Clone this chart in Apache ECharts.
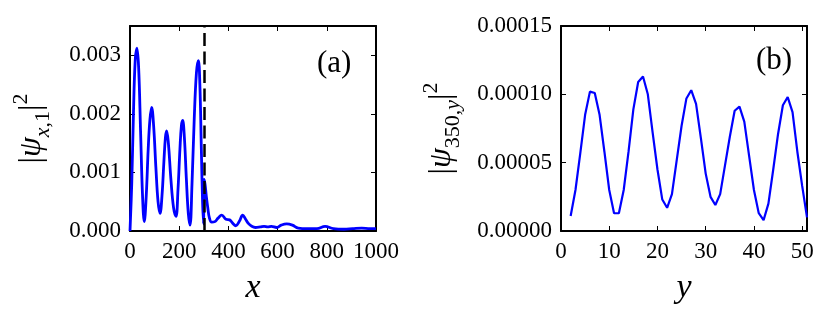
<!DOCTYPE html>
<html>
<head>
<meta charset="utf-8">
<script src="https://cdn.jsdelivr.net/npm/echarts@6/dist/echarts.min.js"></script>
<style>
  html, body { margin: 0; padding: 0; background: #fff; }
  #chart { width: 831px; height: 322px; }
</style>
</head>
<body>
<div id="chart"></div>
<script>
// panel (a): |psi_{x,1}|^2 along x
const leftX = [0, 7, 14, 21, 28, 35, 43, 51, 58, 66, 74, 81, 88, 96, 105, 114, 122, 130, 138, 144,
  149, 156, 166, 177, 187, 195, 203, 209, 214, 221, 229, 237, 244, 252, 261, 270, 278, 284, 290, 295,
  299, 301, 305, 310, 316, 323, 332, 345, 358, 373, 390, 405, 418, 430, 445, 458, 470, 481, 495, 510,
  530, 545, 560, 575, 596, 615, 637, 660, 684, 720, 760, 793, 827, 870, 905, 942, 975, 1000];
const leftVal = [0, 0.0008, 0.0020, 0.0029, 0.00312, 0.0028, 0.0017, 0.0006, 0.00016, 0.0006,
  0.0014, 0.0019, 0.00211, 0.0018, 0.0011, 0.0005, 0.0003, 0.0006, 0.0012, 0.0016,
  0.00171, 0.0015, 0.0009, 0.0004, 0.00025, 0.0007, 0.0014, 0.0018, 0.00189, 0.0016,
  0.0009, 0.0003, 0.0001, 0.0008, 0.0019, 0.0027, 0.00291, 0.0025, 0.0014, 0.0005,
  0.00012, 0.00088, 0.0008, 0.0006, 0.0004, 0.00022, 0.00015, 0.00016, 0.00022, 0.00027,
  0.0002, 0.00019, 0.00013, 0.00009, 0.00017, 0.00027, 0.0002, 0.00013, 0.00008, 0.00006,
  0.00007, 0.00008, 0.00007, 0.00008, 0.00006, 0.0001, 0.00012, 0.0001, 0.00005, 0.00004,
  0.00004, 0.00008, 0.00004, 0.00003, 0.00004, 0.00005, 0.00004, 0.00004];
const barrierX = 300;

// panel (b): |psi_{350,y}|^2 along y
const rightY = [2, 3, 4, 5, 6, 7, 8, 9, 10, 11, 12, 13, 14, 15, 16, 17, 18, 19, 20, 21, 22, 23, 24, 25, 26,
  27, 28, 29, 30, 31, 32, 33, 34, 35, 36, 37, 38, 39, 40, 41, 42, 43, 44, 45, 46, 47, 48, 49, 50, 51];
const rightVal = [0.000011, 0.000030, 0.000057, 0.000085, 0.000102, 0.000101, 0.000085, 0.000058, 0.000030, 0.000013,
  0.000013, 0.000030, 0.000058, 0.000089, 0.000109, 0.000113, 0.000100, 0.000072, 0.000045, 0.000023,
  0.000017, 0.000027, 0.000052, 0.000077, 0.000097, 0.000103, 0.000093, 0.000068, 0.000042, 0.000025,
  0.000019, 0.000027, 0.000048, 0.000069, 0.000088, 0.000091, 0.000080, 0.000055, 0.000030, 0.000013,
  0.000008, 0.000020, 0.000045, 0.000071, 0.000092, 0.000098, 0.000087, 0.000058, 0.000033, 0.000010];

const FONT = 'Liberation Serif';
const chart = echarts.init(document.getElementById('chart'));

const nameRich = {
  b: { fontFamily: FONT, fontSize: 32, lineHeight: 44, color: '#000' },
  i: { fontFamily: FONT, fontSize: 32, lineHeight: 44, fontStyle: 'italic', color: '#000' },
  s: { fontFamily: FONT, fontSize: 22, lineHeight: 22, verticalAlign: 'bottom', color: '#000' },
  si: { fontFamily: FONT, fontSize: 22, lineHeight: 22, verticalAlign: 'bottom', fontStyle: 'italic', color: '#000' },
  p: { fontFamily: FONT, fontSize: 22, lineHeight: 22, verticalAlign: 'top', color: '#000' }
};

function frameAxis(extra) {
  return Object.assign({
    type: 'value',
    splitLine: { show: false },
    axisLine: { show: true, onZero: false, lineStyle: { color: '#000', width: 2 } },
    axisTick: { show: true, inside: true, length: 5, lineStyle: { color: '#000', width: 1 } },
    axisLabel: { show: false }
  }, extra);
}

function tickLabel(digits, showMax) {
  return {
    show: true, margin: 9, fontFamily: FONT, fontSize: 23, color: '#000',
    showMaxLabel: showMax,
    formatter: v => v.toFixed(digits)
  };
}

const axisNameX = { fontFamily: FONT, fontSize: 34, fontStyle: 'italic', color: '#000' };

chart.setOption({
  animation: false,
  textStyle: { fontFamily: FONT },
  grid: [
    { left: 130, top: 26, width: 246, height: 205 },
    { left: 561, top: 26, width: 246, height: 205 }
  ],
  xAxis: [
    frameAxis({ gridIndex: 0, min: 0, max: 1000, interval: 200, position: 'bottom',
      axisLabel: tickLabel(0, true),
      name: 'x', nameLocation: 'middle', nameGap: 40, nameTextStyle: axisNameX }),
    frameAxis({ gridIndex: 0, min: 0, max: 1000, interval: 200, position: 'top' }),
    frameAxis({ gridIndex: 1, min: 0, max: 51, interval: 10, position: 'bottom',
      axisLabel: tickLabel(0, false),
      name: 'y', nameLocation: 'middle', nameGap: 40, nameTextStyle: axisNameX }),
    frameAxis({ gridIndex: 1, min: 0, max: 51, interval: 10, position: 'top' })
  ],
  yAxis: [
    frameAxis({ gridIndex: 0, min: 0, max: 0.0035, interval: 0.001, position: 'left',
      axisLabel: tickLabel(3, false),
      name: '{b||}{i|ψ}{si|x}{s|,1}{b||}{p|2}', nameLocation: 'middle', nameRotate: 90, nameGap: 76,
      nameTextStyle: { rich: nameRich } }),
    frameAxis({ gridIndex: 0, min: 0, max: 0.0035, interval: 0.001, position: 'right' }),
    frameAxis({ gridIndex: 1, min: 0, max: 0.00015, interval: 0.00005, position: 'left',
      axisLabel: tickLabel(5, true),
      name: '{b||}{i|ψ}{s|350,}{si|y}{b||}{p|2}', nameLocation: 'middle', nameRotate: 90, nameGap: 97,
      nameTextStyle: { rich: nameRich } }),
    frameAxis({ gridIndex: 1, min: 0, max: 0.00015, interval: 0.00005, position: 'right' })
  ],
  graphic: [
    { type: 'text', left: 317, top: 48, style: { text: '(a)', fontFamily: FONT, fontSize: 31, fill: '#000' } },
    { type: 'text', left: 756, top: 45, style: { text: '(b)', fontFamily: FONT, fontSize: 31, fill: '#000' } }
  ],
  series: [
    {
      type: 'line', xAxisIndex: 0, yAxisIndex: 0,
      data: leftX.map((x, i) => [x, leftVal[i]]),
      smooth: 0.4, showSymbol: false,
      lineStyle: { color: '#0000ff', width: 2.8 },
      markLine: {
        silent: true, symbol: 'none', label: { show: false },
        lineStyle: { color: '#000', width: 2.5, type: [13, 5.5] },
        data: [{ xAxis: barrierX }]
      }
    },
    {
      type: 'line', xAxisIndex: 2, yAxisIndex: 2,
      data: rightY.map((y, i) => [y, rightVal[i]]),
      showSymbol: false,
      lineStyle: { color: '#0000ff', width: 2.2 }
    }
  ]
});
</script>
</body>
</html>
